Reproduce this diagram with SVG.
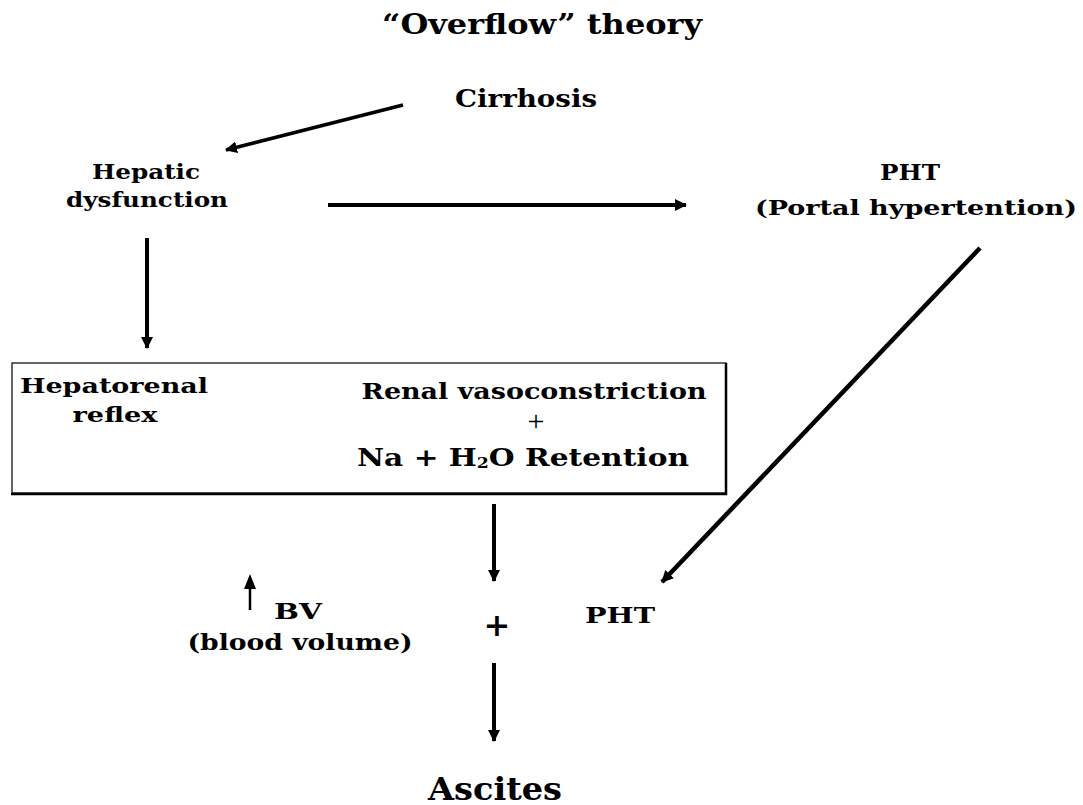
<svg xmlns="http://www.w3.org/2000/svg" width="1083" height="805" viewBox="0 0 1083 805">
<style>
.t{font-family:"DejaVu Serif","Liberation Serif",serif;font-weight:bold;fill:#000}
.c{stroke:#000;fill:none}
</style>
<defs>
<marker id="ah" markerUnits="userSpaceOnUse" markerWidth="14" markerHeight="14" refX="11" refY="6" orient="auto">
<path d="M0,0 L12,6 L0,12 Z" fill="#000"/>
</marker>
</defs>
<rect width="1083" height="805" fill="#fff"/>
<g id="title"><text class="t" x="542" y="34" font-size="27" text-anchor="middle" textLength="320" lengthAdjust="spacingAndGlyphs">“Overflow” theory</text></g>
<g id="cirrhosis"><text class="t" x="526" y="107" font-size="24" text-anchor="middle" textLength="142" lengthAdjust="spacingAndGlyphs">Cirrhosis</text></g>
<g id="hepatic">
<text class="t" x="146" y="179" font-size="21" text-anchor="middle" textLength="108" lengthAdjust="spacingAndGlyphs">Hepatic</text>
<text class="t" x="147" y="207" font-size="21" text-anchor="middle" textLength="162" lengthAdjust="spacingAndGlyphs">dysfunction</text>
</g>
<g id="pht-top">
<text class="t" x="910" y="180" font-size="23" text-anchor="middle" textLength="60" lengthAdjust="spacingAndGlyphs">PHT</text>
<text class="t" x="916" y="215" font-size="21" text-anchor="middle" textLength="322" lengthAdjust="spacingAndGlyphs">(Portal hypertention)</text>
</g>
<g id="box">
<rect x="12" y="363" width="714" height="130" fill="#fff" stroke="#000" stroke-width="1.2"/>
<polyline points="726,363 726,494 11,494" fill="none" stroke="#000" stroke-width="2.5"/>
<text class="t" x="114" y="393" font-size="21" text-anchor="middle" textLength="188" lengthAdjust="spacingAndGlyphs">Hepatorenal</text>
<text class="t" x="115" y="422" font-size="21" text-anchor="middle" textLength="85" lengthAdjust="spacingAndGlyphs">reflex</text>
<text class="t" x="534" y="399" font-size="22" text-anchor="middle" textLength="345" lengthAdjust="spacingAndGlyphs">Renal vasoconstriction</text>
<text x="536" y="431" font-size="30" text-anchor="middle" font-family="Liberation Serif,serif">+</text>
<text class="t" x="523" y="466" font-size="24" text-anchor="middle" textLength="332" lengthAdjust="spacingAndGlyphs">Na + H<tspan font-size="14" dy="2">2</tspan><tspan dy="-2">O Retention</tspan></text>
</g>
<g id="bv">
<line class="c" x1="250" y1="610" x2="250" y2="584" stroke-width="2.5"/>
<path d="M250,574 L244,589 L256,589 Z" fill="#000"/>
<text class="t" x="298" y="619" font-size="22" text-anchor="middle" textLength="48" lengthAdjust="spacingAndGlyphs">BV</text>
<text class="t" x="300" y="650" font-size="22" text-anchor="middle" textLength="225" lengthAdjust="spacingAndGlyphs">(blood volume)</text>
</g>
<g id="plus"><text class="t" x="497" y="636" font-size="32" text-anchor="middle">+</text></g>
<g id="pht-bottom"><text class="t" x="620" y="623" font-size="22" text-anchor="middle" textLength="70" lengthAdjust="spacingAndGlyphs">PHT</text></g>
<g id="ascites"><text class="t" x="495" y="800" font-size="31" text-anchor="middle" textLength="134" lengthAdjust="spacingAndGlyphs">Ascites</text></g>
<g id="connectors">
<line class="c" x1="403" y1="105" x2="226" y2="150" stroke-width="3.5" marker-end="url(#ah)"/>
<line class="c" x1="328" y1="205" x2="686" y2="205" stroke-width="4" marker-end="url(#ah)"/>
<line class="c" x1="147" y1="238" x2="147" y2="348" stroke-width="4" marker-end="url(#ah)"/>
<line class="c" x1="494" y1="504" x2="494" y2="581" stroke-width="4" marker-end="url(#ah)"/>
<line class="c" x1="980" y1="248" x2="662" y2="582" stroke-width="4.5" marker-end="url(#ah)"/>
<line class="c" x1="494" y1="663" x2="494" y2="741" stroke-width="4" marker-end="url(#ah)"/>
</g>
</svg>
